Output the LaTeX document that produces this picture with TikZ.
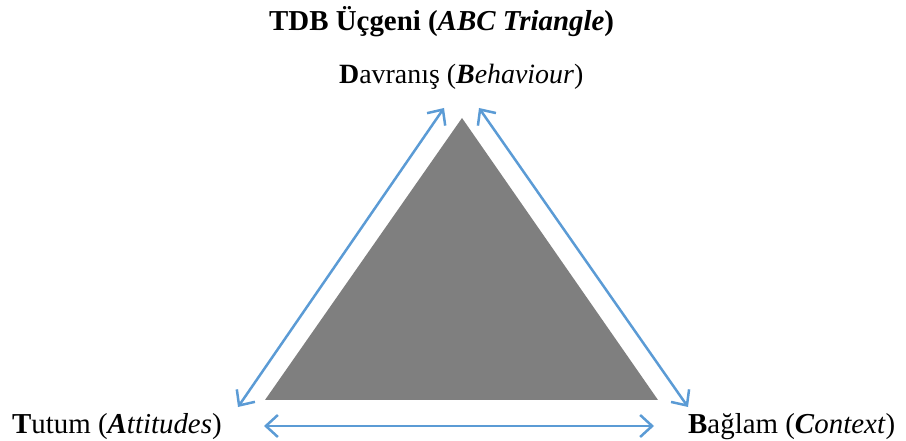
\documentclass[tikz,border=0pt]{standalone}
\usepackage{fontspec}
\setmainfont{Liberation Serif}
\usetikzlibrary{arrows.meta}
\definecolor{arrowblue}{HTML}{5B9BD5}
\definecolor{trigray}{HTML}{7F7F7F}
\tikzset{
  lbl/.style={anchor=base west, inner sep=0pt, font=\fontsize{29}{33}\selectfont},
  lblsmall/.style={lbl, font=\fontsize{28}{32}\selectfont},
  dbl/.style={draw=arrowblue, line width=2.5bp, {Straight Barb[length=12bp,width=22bp,line width=2.5bp]}-{Straight Barb[length=12bp,width=22bp,line width=2.5bp]}},
}
\begin{document}
\begin{tikzpicture}[x=1bp,y=-1bp]
\useasboundingbox (0,0) rectangle (906,441);
% triangle
\coordinate (apex) at (462,118);
\coordinate (bl) at (265,400);
\coordinate (br) at (658,400);
\fill[trigray] (apex) -- (bl) -- (br) -- cycle;
% arrow ends
\coordinate (lt) at (444,108);
\coordinate (lb) at (238,407);
\coordinate (rt) at (479,108);
\coordinate (rb) at (688,407);
\coordinate (bL) at (264,426);
\coordinate (bR) at (654,426);
\draw[dbl] (lb) -- (lt);
\draw[dbl] (rt) -- (rb);
\draw[dbl] (bL) -- (bR);
% labels
\node[lbl] (title) at (269,31) {\textbf{TDB Üçgeni (\textit{ABC Triangle})}};
\node[lblsmall] (beh) at (339,84) {\textbf{D}avranış (\textbf{\textit{B}}\textit{ehaviour})};
\node[lbl] (att) at (12,433) {\textbf{T}utum (\textbf{\textit{A}}\textit{ttitudes})};
\node[lbl] (ctx) at (688,433) {\textbf{B}ağlam (\textbf{\textit{C}}\textit{ontext})};
\end{tikzpicture}
\end{document}
